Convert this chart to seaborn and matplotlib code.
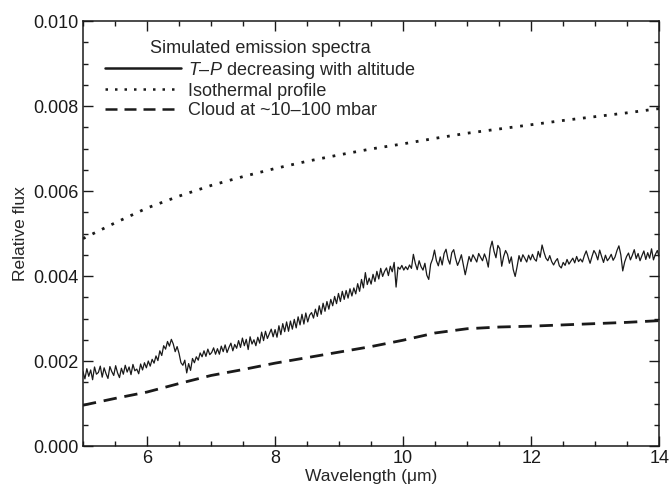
import numpy as np
import pandas as pd
import seaborn as sns
import matplotlib
matplotlib.use('Agg')
import matplotlib.pyplot as plt
from matplotlib.ticker import MultipleLocator

# T-P decreasing with altitude (units of 1e-4), 5-14 um step 0.03
wl_tp = np.round(np.linspace(5.0, 14.0, 301), 3)
flux_tp = [
    17.5, 15.8, 18.2, 16.4, 17.9, 15.6, 18.6, 16.9, 17.3, 18.8,
    16.2, 18.4, 17.0, 15.9, 18.7, 17.5, 16.6, 18.9, 17.2, 16.1,
    18.3, 16.9, 19.0, 17.4, 18.6, 16.8, 19.2, 17.7, 18.1, 17.0,
    19.3, 17.9, 19.6, 18.4, 20.0, 18.8, 20.4, 19.5, 21.2, 20.1,
    22.4, 21.3, 23.6, 22.8, 24.6, 23.5, 25.1, 24.0, 22.2, 23.4,
    21.8, 19.6, 19.0, 20.2, 17.2, 19.4, 17.8, 20.6, 19.6, 21.0,
    20.2, 21.9, 21.0, 22.4, 21.1, 22.8, 21.5, 22.0, 23.1, 21.6,
    22.9, 21.6, 23.5, 22.2, 23.8, 22.0, 23.2, 24.2, 22.4, 23.9,
    23.0, 24.8, 23.2, 25.4, 23.6, 25.1, 22.7, 25.7, 24.0, 25.0,
    23.6, 25.6, 24.2, 26.8, 24.8, 27.0, 25.3, 26.4, 27.5, 25.7,
    27.4, 25.6, 28.3, 26.2, 28.8, 26.9, 29.2, 27.0, 29.4, 27.5,
    29.8, 27.8, 30.4, 28.5, 31.0, 28.7, 31.3, 29.2, 30.8, 31.4,
    30.1, 32.2, 30.5, 33.0, 31.0, 33.6, 31.7, 34.0, 32.2, 34.5,
    33.0, 35.2, 33.5, 35.9, 34.0, 36.4, 34.5, 36.6, 34.8, 37.0,
    35.3, 37.2, 35.8, 38.2, 36.4, 39.2, 37.2, 40.8, 38.0, 39.5,
    38.1, 40.4, 38.7, 41.1, 39.3, 41.8, 39.9, 41.1, 41.9, 40.1,
    42.3, 41.0, 43.2, 37.4, 42.1, 41.6, 42.5, 41.4, 42.2, 41.5,
    42.6, 41.8, 45.1, 43.0, 41.5, 43.6, 42.2, 41.4, 43.0, 40.2,
    39.2, 42.8, 44.0, 46.1, 43.6, 42.4, 44.5, 42.6, 45.3, 46.3,
    44.0, 42.8, 45.5, 46.2, 44.1, 42.5, 43.6, 45.0, 42.6, 40.3,
    42.5, 44.6, 43.4, 45.0, 44.2, 43.3, 45.3, 44.4, 43.6, 45.2,
    44.0, 42.1, 46.5, 48.2, 45.8, 44.3, 47.2, 46.4, 42.3, 44.6,
    46.0, 45.1, 43.0, 44.5, 41.5, 39.9, 42.2, 44.8, 43.4, 45.0,
    44.2, 43.3, 44.9, 43.8, 45.1, 44.0, 43.5, 45.8, 44.4, 47.3,
    45.6, 44.2, 43.6, 44.8, 43.4, 42.6, 43.5, 44.1, 42.4, 41.9,
    43.2, 42.5, 43.9, 42.8, 43.5, 44.2, 43.1, 44.6, 43.4, 44.0,
    43.3, 44.8, 45.9, 44.4, 43.0, 44.6, 46.0, 45.2, 43.8, 46.1,
    44.6, 43.2, 44.9, 43.6, 44.2, 45.1, 43.7, 44.5, 46.0, 47.1,
    45.0, 41.2, 43.3, 44.6, 45.4, 43.8, 44.9, 46.2, 44.1, 45.3,
    43.6, 44.8, 45.9, 43.9, 45.5, 44.2, 46.4, 43.8, 45.1, 46.0,
    44.5,
]

# smoother models, every 0.5 um (units of 1e-4)
wl_model = [5.0, 5.5, 6.0, 6.5, 7.0, 7.5, 8.0, 8.5, 9.0, 9.5,
            10.0, 10.5, 11.0, 11.5, 12.0, 12.5, 13.0, 13.5, 14.0]
flux_iso = [48.8, 52.5, 56.0, 58.8, 61.3, 63.4, 65.3, 67.0, 68.5, 69.9,
            71.1, 72.4, 73.6, 74.6, 75.6, 76.6, 77.5, 78.4, 79.4]
flux_cloud = [9.6, 11.2, 12.7, 14.7, 16.6, 18.0, 19.5, 20.8, 22.1, 23.4,
              24.9, 26.6, 27.6, 28.0, 28.2, 28.5, 28.8, 29.1, 29.5]

df_tp = pd.DataFrame({'wl': wl_tp, 'flux': np.array(flux_tp) * 1e-4})
df_mod = pd.DataFrame({'wl': wl_model,
                       'iso': np.array(flux_iso) * 1e-4,
                       'cloud': np.array(flux_cloud) * 1e-4})

sns.set_style('ticks')
plt.rcParams['font.family'] = ['Liberation Sans', 'DejaVu Sans']
plt.rcParams['mathtext.fontset'] = 'custom'
plt.rcParams['mathtext.rm'] = 'Liberation Sans'
plt.rcParams['mathtext.it'] = 'Liberation Sans:italic'

fig = plt.figure(figsize=(6.72, 4.91), dpi=100)
ax = fig.add_axes([0.1235, 0.0916, 0.8575, 0.8656])

sns.lineplot(data=df_tp, x='wl', y='flux', ax=ax, color='#1a1a1a', lw=0.9,
             label=r'$\it{T}$–$\it{P}$ decreasing with altitude')
sns.lineplot(data=df_mod, x='wl', y='iso', ax=ax, color='#1a1a1a', lw=2.0,
             linestyle=(0, (1, 2.8)), label='Isothermal profile')
sns.lineplot(data=df_mod, x='wl', y='cloud', ax=ax, color='#1a1a1a', lw=2.0,
             linestyle=(0, (4.8, 2.8)), label='Cloud at ~10–100 mbar')

ax.set_xlim(5, 14)
ax.set_ylim(0, 0.010)
ax.xaxis.set_major_locator(MultipleLocator(2))
ax.xaxis.set_minor_locator(MultipleLocator(0.5))
ax.yaxis.set_major_locator(MultipleLocator(0.002))
ax.yaxis.set_minor_locator(MultipleLocator(0.0005))
ax.yaxis.set_major_formatter(plt.FuncFormatter(lambda v, p: f'{v:.3f}'))
ax.tick_params(which='both', direction='in', top=True, right=True,
               labelsize=13, colors='#1a1a1a', width=1.0)
ax.tick_params(which='major', length=7, pad=3)
ax.tick_params(which='minor', length=3.5)
for s in ax.spines.values():
    s.set_linewidth(1.1)
    s.set_color('#1a1a1a')

ax.set_xlabel('Wavelength (μm)', fontsize=12.5, labelpad=1)
ax.set_ylabel('Relative flux', fontsize=12.5, labelpad=4)

leg = ax.legend(title='Simulated emission spectra', loc='upper left',
                bbox_to_anchor=(0.02, 0.98), frameon=False, fontsize=13,
                title_fontsize=13, handlelength=4.2, handletextpad=0.4,
                labelspacing=0.12, borderaxespad=0.2)
for h in leg.get_lines():
    h.set_linewidth(1.8)

fig.savefig('out.png', dpi=100)
